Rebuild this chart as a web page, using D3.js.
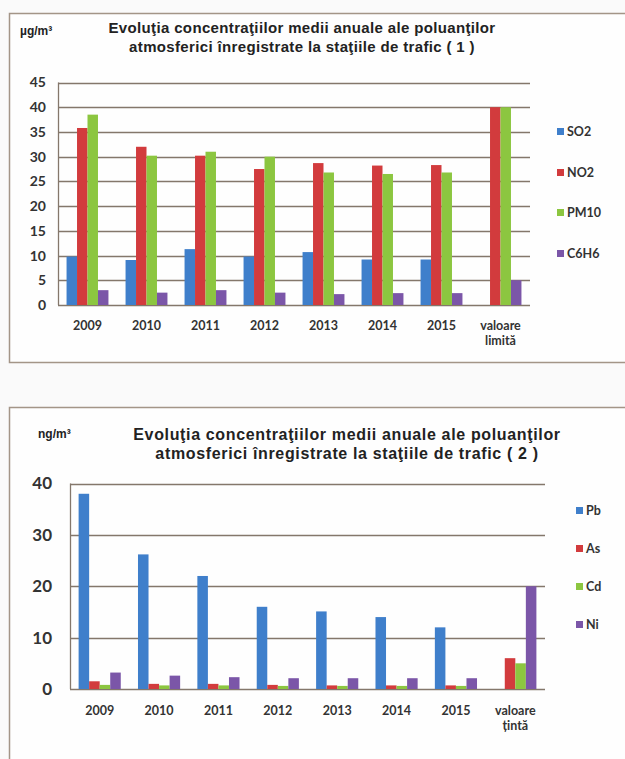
<!DOCTYPE html>
<html><head><meta charset="utf-8">
<script src="https://cdn.jsdelivr.net/npm/d3@7"></script>
<style>
html,body{margin:0;padding:0;background:#fafafa;}
svg{display:block;}
</style></head>
<body>
<script>
// ---- Chart 1 data (µg/m³)
const categories1 = ["2009","2010","2011","2012","2013","2014","2015","valoare limită"];
const series1 = ["SO2","NO2","PM10","C6H6"];
const SO2  = [9.8, 9.1, 11.3, 9.8, 10.7, 9.2, 9.2, null];
const NO2  = [35.8, 32.0, 30.2, 27.5, 28.7, 28.2, 28.3, 40];
const PM10 = [38.5, 30.2, 31.0, 30.0, 26.8, 26.5, 26.8, 40];
const C6H6 = [3.0, 2.5, 3.0, 2.5, 2.2, 2.4, 2.4, 5];
const ticks1 = [0,5,10,15,20,25,30,35,40,45];

// ---- Chart 2 data (ng/m³)
const categories2 = ["2009","2010","2011","2012","2013","2014","2015","valoare țintă"];
const series2 = ["Pb","As","Cd","Ni"];
const Pb = [38.0, 26.2, 22.0, 16.0, 15.1, 14.0, 12.0, null];
const As = [1.5, 1.0, 1.0, 0.8, 0.7, 0.7, 0.7, 6];
const Cd = [0.8, 0.7, 0.7, 0.6, 0.6, 0.6, 0.6, 5];
const Ni = [3.2, 2.6, 2.3, 2.1, 2.1, 2.1, 2.1, 20];
const ticks2 = [0,10,20,30,40];

const colors = ["#3f7fcb","#d23b3d","#8cc640","#7b56a8"];

const W = 625, H = 759;
const svg = d3.select("body").append("svg").attr("width", W).attr("height", H);

function drawChart(cfg){
  const g = svg.append("g");
  g.append("rect").attr("x",cfg.box[0]+0.5).attr("y",cfg.box[1]+0.5)
    .attr("width",cfg.box[2]).attr("height",cfg.box[3])
    .attr("fill","#fefefe").attr("stroke","#a39587").attr("stroke-width",1.5);
  g.append("text").attr("x",cfg.unitPos[0]).attr("y",cfg.unitPos[1])
    .attr("font-family","Liberation Sans, Arial, sans-serif").attr("font-weight","bold")
    .attr("font-size",cfg.unitSize).attr("fill","#222").text(cfg.unit);
  cfg.title.forEach((t,i)=>{
    g.append("text").attr("x",cfg.titleX).attr("y",cfg.titleY + i*cfg.titleLH)
      .attr("text-anchor","middle")
      .attr("font-family","Liberation Sans, Arial, sans-serif")
      .attr("font-weight",cfg.titleWeight).attr("font-size",cfg.titleSize)
      .attr("letter-spacing",cfg.titleLS)
      .attr("fill","#222").text(t);
  });
  const x = d3.scaleBand().domain(cfg.categories).range([cfg.plot[0],cfg.plot[1]]).paddingInner(0.29).paddingOuter(0.145);
  const xs = d3.scaleBand().domain(cfg.series).range([0,x.bandwidth()]);
  const y = d3.scaleLinear().domain([0,cfg.ymax]).range([cfg.plot[3],cfg.plot[2]]);
  g.append("g").selectAll("line").data(cfg.ticks).join("line")
    .attr("x1",cfg.plot[0]).attr("x2",cfg.plot[1])
    .attr("y1",d=>Math.round(y(d))+0.5).attr("y2",d=>Math.round(y(d))+0.5)
    .attr("stroke","#84776b").attr("stroke-width",1.3);
  g.append("line").attr("x1",cfg.plot[0]+0.5).attr("x2",cfg.plot[0]+0.5)
    .attr("y1",y(cfg.ymax)).attr("y2",y(0)).attr("stroke","#84776b").attr("stroke-width",1.3);
  const ya = g.append("g").attr("transform",`translate(${cfg.plot[0]},0)`)
    .call(d3.axisLeft(y).tickValues(cfg.ticks).tickSize(0).tickPadding(cfg.yPad));
  ya.select(".domain").remove();
  ya.selectAll("text").attr("font-family","Lato, 'Open Sans', sans-serif").attr("font-weight","bold")
    .attr("font-size",cfg.ySize).attr("fill","#333");
  cfg.series.forEach((s,si)=>{
    const vals = cfg.values[si];
    g.append("g").selectAll("rect").data(cfg.categories.map((c,i)=>({c,v:vals[i]})).filter(d=>d.v!=null))
      .join("rect")
      .attr("x",d=>x(d.c)+xs(s)).attr("width",xs.bandwidth())
      .attr("y",d=>y(d.v)).attr("height",d=>y(0)-y(d.v))
      .attr("fill",colors[si]);
  });
  const xa = g.append("g").attr("transform",`translate(0,${y(0)})`)
    .call(d3.axisBottom(x).tickSize(0).tickPadding(cfg.xPad));
  xa.select(".domain").remove();
  xa.selectAll("text").attr("font-family","Lato, 'Open Sans', sans-serif").attr("font-weight","bold")
    .attr("font-size",12.5).attr("fill","#333")
    .each(function(d){
      const parts = d.split(" ");
      if(parts.length>1){
        const t = d3.select(this); t.text(null);
        parts.forEach((p,i)=>t.append("tspan").attr("x",0).attr("dy",i?"1.2em":"0.71em").text(p));
        t.attr("dy",null);
      }
    });
  cfg.series.forEach((s,si)=>{
    const ly = cfg.legY[si];
    g.append("rect").attr("x",cfg.legX).attr("y",ly-4).attr("width",7).attr("height",7).attr("fill",colors[si]);
    g.append("text").attr("x",cfg.legX+10).attr("y",ly).attr("dy","0.35em")
      .attr("font-family","Lato, 'Open Sans', sans-serif").attr("font-weight","bold")
      .attr("font-size",12.5).attr("fill","#333").text(s);
  });
}

drawChart({
  box:[9,13,630,349],
  unit:"µg/m³", unitPos:[20,35], unitSize:12,
  title:["Evoluţia concentraţiilor medii anuale ale poluanţilor","atmosferici înregistrate la staţiile de trafic ( 1 )"],
  titleX:302, titleY:33, titleLH:19, titleSize:15, titleWeight:"bold", titleLS:0.35,
  categories:categories1, series:series1, values:[SO2,NO2,PM10,C6H6],
  ticks:ticks1, ymax:45, plot:[58,530,82.5,305],
  yPad:12, ySize:14, xPad:16,
  legX:557, legY:[132,173,213,254]
});

drawChart({
  box:[9,407,630,360],
  unit:"ng/m³", unitPos:[38,438], unitSize:12,
  title:["Evoluţia concentraţiilor medii anuale ale poluanţilor","atmosferici înregistrate la staţiile de trafic ( 2 )"],
  titleX:347, titleY:440, titleLH:19, titleSize:16, titleWeight:"bold", titleLS:0.65,
  categories:categories2, series:series2, values:[Pb,As,Cd,Ni],
  ticks:ticks2, ymax:40, plot:[70,545,483.5,689],
  yPad:18, ySize:17, xPad:17,
  legX:576, legY:[511,549,587,625]
});
</script>
</body></html>
